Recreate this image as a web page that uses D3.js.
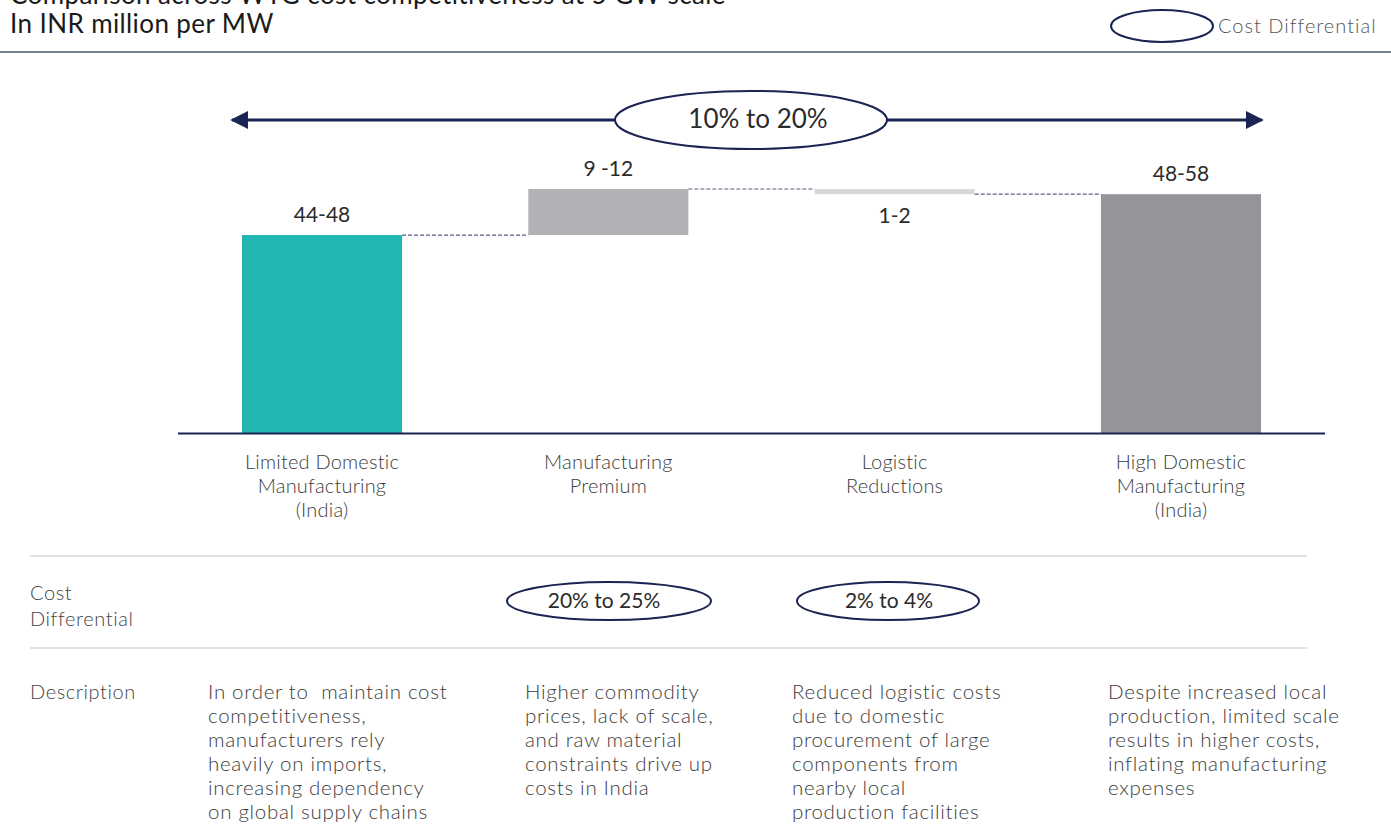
<!DOCTYPE html>
<html><head><meta charset="utf-8">
<script src="https://cdn.jsdelivr.net/npm/d3@7"></script>
<style>
body{margin:0;background:#fff;}
svg{display:block;font-family:Lato,"Open Sans",sans-serif;}
</style></head>
<body><svg id="c" width="1391" height="836"></svg>
<script>
const titleLines = ["Comparison across WTG cost competitiveness at 5 GW scale", "In INR million per MW"];
const categories = [["Limited Domestic","Manufacturing","(India)"],["Manufacturing","Premium"],["Logistic","Reductions"],["High Domestic","Manufacturing","(India)"]];
const kinds = ["total","increase","decrease","total"];
const values = [46, 10.7, -1.2, 55.5];
const valueLabels = ["44-48","9 -12","1-2","48-58"];
const barColors = ["#21b6b1","#b1b2b6","#d9d9d9","#949598"];
const overallDiff = "10% to 20%";
const rowDiffs = ["", "20% to 25%", "2% to 4%", ""];
const descriptions = [
  ["In order to\u00a0 maintain cost","competitiveness,","manufacturers rely","heavily on imports,","increasing dependency","on global supply chains"],
  ["Higher commodity","prices, lack of scale,","and raw material","constraints drive up","costs in India"],
  ["Reduced logistic costs","due to domestic","procurement of large","components from","nearby local","production facilities"],
  ["Despite increased local","production, limited scale","results in higher costs,","inflating manufacturing","expenses"]
];

const svg = d3.select("#c");
const navy = "#1b2453";
const txt = "#2b2b2b";
const light = "#3c3c3c";

// compute waterfall
let run = 0;
const bars = values.map((v,i)=>{
  let y0,y1;
  if (kinds[i]==="total"){ y0=0; y1=v; run=v; }
  else { y0=run; y1=run+v; run=run+v; }
  return {i, y0:Math.min(y0,y1), y1:Math.max(y0,y1), end:y1, kind:kinds[i], label:valueLabels[i]};
});

const x = d3.scaleBand().domain(d3.range(categories.length)).range([242,1261]).paddingInner(0.441).paddingOuter(0);
const y = d3.scaleLinear().domain([0,60]).range([433,174.8]);

// title
svg.append("text").attr("x",10).attr("y",4).attr("font-size",26).attr("letter-spacing",0.4).attr("fill","#1a1a1a").text(titleLines[0]);
svg.append("text").attr("x",10).attr("y",33).attr("font-size",26).attr("letter-spacing",0.4).attr("fill","#1a1a1a").text(titleLines[1]);
// legend
svg.append("ellipse").attr("cx",1162).attr("cy",26).attr("rx",51).attr("ry",16).attr("fill","none").attr("stroke",navy).attr("stroke-width",2);
svg.append("text").attr("x",1218).attr("y",33).attr("font-size",20).attr("font-weight",300).attr("letter-spacing",1).attr("fill","#555").text("Cost Differential");
svg.append("line").attr("x1",0).attr("x2",1391).attr("y1",52).attr("y2",52).attr("stroke","#4a5670").attr("stroke-width",1.5);

// overall arrow
const defs = svg.append("defs");
defs.append("marker").attr("id","ah").attr("viewBox","0 0 10 10").attr("refX",9).attr("refY",5)
  .attr("markerWidth",6).attr("markerHeight",6).attr("markerUnits","strokeWidth").attr("orient","auto-start-reverse")
  .append("path").attr("d","M0,0L10,5L0,10z").attr("fill",navy);
const ax0 = x(0)-10, ax1 = x(3)+x.bandwidth()+1;
svg.append("line").attr("x1",ax0).attr("x2",ax1).attr("y1",120).attr("y2",120)
  .attr("stroke",navy).attr("stroke-width",3).attr("marker-start","url(#ah)").attr("marker-end","url(#ah)");
const ecx = (ax0+ax1)/2 + 4;
svg.append("ellipse").attr("cx",ecx).attr("cy",120).attr("rx",136).attr("ry",29).attr("fill","#fff").attr("stroke",navy).attr("stroke-width",2);
svg.append("text").attr("x",ecx+7).attr("y",128).attr("text-anchor","middle").attr("font-size",26).attr("fill",txt).text(overallDiff);

// bars
svg.selectAll("rect.bar").data(bars).join("rect").attr("class","bar")
  .attr("x",d=>x(d.i)).attr("width",x.bandwidth())
  .attr("y",d=>y(d.y1)).attr("height",d=>y(d.y0)-y(d.y1))
  .attr("fill",d=>barColors[d.i]);

// connectors
for (let i=0;i<bars.length-1;i++){
  const yy = y(bars[i].end);
  svg.append("line").attr("x1",x(i)+x.bandwidth()).attr("x2",x(i+1)).attr("y1",yy).attr("y2",yy)
    .attr("stroke","#5a6080").attr("stroke-width",1.2).attr("stroke-dasharray","4,2");
}

// value labels
svg.selectAll("text.vl").data(bars).join("text").attr("class","vl")
  .attr("x",d=>x(d.i)+x.bandwidth()/2)
  .attr("y",d=>d.kind==="decrease"? y(d.y0)+29 : y(d.y1)-13)
  .attr("text-anchor","middle").attr("font-size",21).attr("fill",txt)
  .style("white-space","pre").text(d=>d.label);

// axis baseline
svg.append("line").attr("x1",178).attr("x2",1325).attr("y1",433.5).attr("y2",433.5).attr("stroke",navy).attr("stroke-width",2);

// category labels
categories.forEach((lines,i)=>{
  const cx = x(i)+x.bandwidth()/2;
  const t = svg.append("text").attr("text-anchor","middle")
    .attr("font-size",20).attr("font-weight",300).attr("letter-spacing",0.2).attr("fill",light);
  lines.forEach((l,j)=>t.append("tspan").attr("x",cx).attr("y",469+j*24).text(l));
});

// separators
[556,648].forEach(yy=>svg.append("line").attr("x1",30).attr("x2",1307).attr("y1",yy).attr("y2",yy).attr("stroke","#c4c4c4").attr("stroke-width",1.2));

// row labels
const rl = svg.append("text").attr("font-size",20).attr("font-weight",300).attr("letter-spacing",0.6).attr("fill","#444");
rl.append("tspan").attr("x",30).attr("y",600).text("Cost");
rl.append("tspan").attr("x",30).attr("y",626).text("Differential");
svg.append("text").attr("x",30).attr("y",699).attr("font-size",20).attr("font-weight",300).attr("letter-spacing",0.6).attr("fill","#444").text("Description");

// row diffs
const diffPos = [null,{cx:609,rx:102},{cx:888,rx:91},null];
rowDiffs.forEach((d,i)=>{
  if(!d) return;
  const p = diffPos[i];
  svg.append("ellipse").attr("cx",p.cx).attr("cy",601).attr("rx",p.rx).attr("ry",19).attr("fill","none").attr("stroke",navy).attr("stroke-width",2);
  svg.append("text").attr("x",p.cx-(i===1?5:-1)).attr("y",608).attr("text-anchor","middle").attr("font-size",21).attr("fill",txt).text(d);
});

// descriptions
const descX = [208,525,792,1108];
descriptions.forEach((lines,i)=>{
  const t = svg.append("text").attr("font-size",20.5).attr("font-weight",300).attr("letter-spacing",0.7).attr("fill",light);
  lines.forEach((l,j)=>t.append("tspan").attr("x",descX[i]).attr("y",699+j*24).text(l));
});
</script></body></html>
